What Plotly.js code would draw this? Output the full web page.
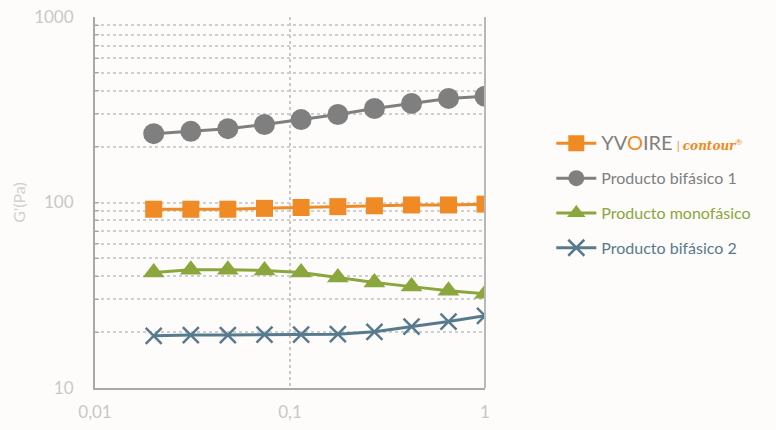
<!DOCTYPE html>
<html><head><meta charset="utf-8">
<script src="https://cdn.plot.ly/plotly-3.0.1.min.js"></script>
<style>body{margin:0;background:#fdfcfa}</style>
</head><body><div id="c" style="width:776px;height:430px"></div>
<script>
const freq = [0.02, 0.031, 0.048, 0.074, 0.114, 0.176, 0.271, 0.42, 0.65, 1.0];
const yvoire = [92, 92, 92, 93, 94, 95, 96, 97, 97, 98];
const bifasico1 = [235, 242, 250, 263, 280, 298, 321, 342, 364, 374];
const monofasico = [42, 43.4, 43.4, 43, 41.9, 39.4, 37, 35.2, 33.4, 32.2];
const bifasico2 = [19.1, 19.3, 19.3, 19.4, 19.4, 19.5, 20.1, 21.4, 22.8, 24.5];
const names = ['<span style="font-size:20px">YV<span style="color:#f08a24">O</span>IRE</span> <span style="color:#f08a24;font-size:12px">| <b><i style="font-family:DejaVu Serif">contour</i></b><sup>®</sup></span>',
  'Producto bifásico 1', 'Producto monofásico', 'Producto bifásico 2'];
const colors = ['#f08a24', '#7f7f7f', '#8ba63c', '#587a8e'];
const legendColors = ['#7f7f7f', '#7f7f7f', '#8ba63c', '#587a8e'];
const yTickVals = [10,20,30,40,50,60,70,80,90,100,200,300,400,500,600,700,800,900,1000];
const yTickText = ['10','','','','','','','','','100','','','','','','','','','1000'];
const xTickVals = [0.01, 0.1, 1], xTickText = ['0,01', '0,1', '1'];

const series = [yvoire, bifasico1, monofasico, bifasico2];
const markers = [
  {symbol:'square', size:17},
  {symbol:'circle', size:21},
  {symbol:'triangle-up', size:19},
  {symbol:'x-thin', size:16, line:{width:2.5, color:colors[3]}}
];
const traces = series.map((s,i)=>({
  x: freq, y: s, type:'scatter', mode:'lines+markers',
  name: `<span style="color:${legendColors[i]}">${names[i]}</span>`,
  legendgroup: 'g'+i,
  line:{color:colors[i], width:3},
  marker: Object.assign({color:colors[i]}, markers[i])
}));
const layout = {
  width:776, height:430,
  paper_bgcolor:'#fdfcfa', plot_bgcolor:'#fdfcfa',
  margin:{l:95, r:291, t:17, b:42},
  font:{family:'Lato, sans-serif', color:'#c8c8c8'},
  showlegend:true,
  legend:{x:1.17, y:0.705, xanchor:'left', yanchor:'top', font:{size:16}, tracegroupgap:11, itemwidth:40, bgcolor:'rgba(0,0,0,0)'},
  xaxis:{type:'log', range:[-2,0], tickvals:xTickVals, ticktext:xTickText,
    tickfont:{size:17, color:'#c8c8c8'}, ticklabelstandoff:8, showgrid:true, gridcolor:'#c8c8c8', griddash:'dot', gridwidth:1.5,
    showline:true, linecolor:'#a8a8a8', linewidth:2, ticks:'', zeroline:false},
  yaxis:{type:'log', range:[1,3], tickvals:yTickVals, ticktext:yTickText,
    tickfont:{size:17, color:'#c8c8c8'}, ticklabelstandoff:16, showgrid:true, gridcolor:'#cfcfcf', griddash:'dot', gridwidth:1.5,
    showline:true, linecolor:'#a8a8a8', linewidth:2, ticks:'inside', ticklen:4, tickcolor:'#a8a8a8', zeroline:false,
    title:{text:"G'(Pa)", font:{size:16, color:'#d0d0d0'}, standoff:5}},
  shapes:[{type:'line', xref:'paper', yref:'paper', x0:1, x1:1, y0:0, y1:1, line:{color:'#b8b8b8', width:2}}]
};
Plotly.newPlot('c', traces, layout, {displayModeBar:false});
</script></body></html>
